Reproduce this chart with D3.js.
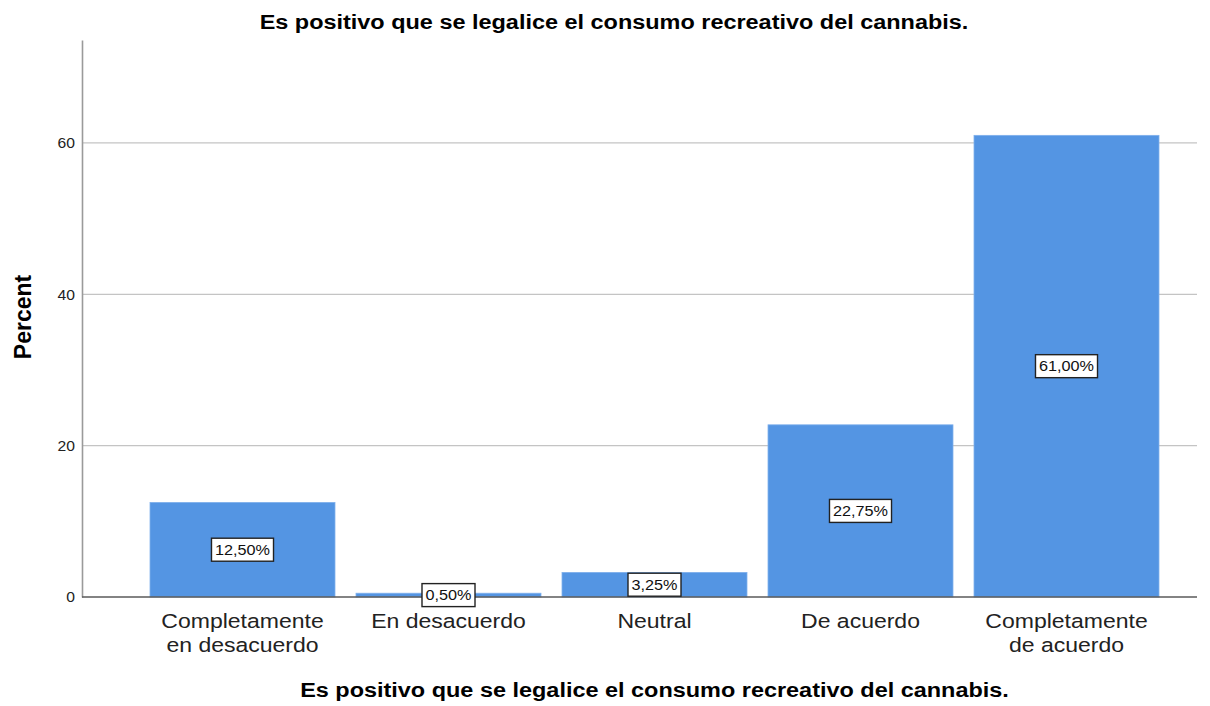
<!DOCTYPE html>
<html><head><meta charset="utf-8">
<script src="https://cdn.jsdelivr.net/npm/d3@7"></script>
<style>body{margin:0;background:#fff}svg{display:block}text{font-family:"Liberation Sans",Arial,sans-serif}</style>
</head><body><svg id="c" width="1210" height="706"></svg>
<script>
const categories = [["Completamente","en desacuerdo"],["En desacuerdo"],["Neutral"],["De acuerdo"],["Completamente","de acuerdo"]];
const values = [12.50, 0.50, 3.25, 22.75, 61.00];
const valueLabels = ["12,50%","0,50%","3,25%","22,75%","61,00%"];
const yTicks = [0, 20, 40, 60];
const titleText = "Es positivo que se legalice el consumo recreativo del cannabis.";
const xTitle = "Es positivo que se legalice el consumo recreativo del cannabis.";
const yTitle = "Percent";

const svg = d3.select("#c");
const plotL = 82, plotR = 1197, plotT = 40, plotB = 597;
const SX = 1.12;

const x = d3.scaleBand().domain(d3.range(values.length)).range([139.5, 1169.5]).paddingInner(0.102).paddingOuter(0.051);
const y = d3.scaleLinear().domain([0, 73.6]).range([plotB, plotT]);

// gridlines
svg.append("g").selectAll("line").data(yTicks.filter(d => d > 0)).join("line")
  .attr("x1", plotL).attr("x2", plotR).attr("y1", d => y(d)).attr("y2", d => y(d))
  .attr("stroke", "#c4c4c4").attr("stroke-width", 1.2);

// y axis
const yAxis = d3.axisLeft(y).tickValues(yTicks).tickSize(0).tickPadding(8).tickFormat(d3.format("d"));
const ga = svg.append("g").attr("transform", `translate(${plotL},0)`).call(yAxis);
ga.select(".domain").attr("stroke", "#9a9a9a").attr("stroke-width", 1.6);
ga.selectAll(".tick text").attr("font-size", 14).attr("fill", "#222").attr("font-family", '"Liberation Sans",Arial,sans-serif')
  .attr("x", -7).attr("dy", "0.35em")
  .style("transform-box","fill-box").style("transform-origin","right center").style("transform", `scaleX(${SX})`);

// bars
svg.append("g").selectAll("rect").data(values).join("rect")
  .attr("x", (d, i) => x(i)).attr("width", x.bandwidth())
  .attr("y", d => y(d)).attr("height", d => y(0) - y(d))
  .attr("fill", "#5495e3").attr("stroke", "#7fb0ec").attr("stroke-width", 0.8);

// baseline
svg.append("line").attr("x1", plotL).attr("x2", plotR).attr("y1", y(0)).attr("y2", y(0))
  .attr("stroke", "#5a5a5a").attr("stroke-width", 1.4);

function stext(g, txt, tx, ty, size, weight, sx) {
  return g.append("text").attr("transform", `translate(${tx},${ty}) scale(${sx || SX},1)`)
    .attr("text-anchor", "middle").attr("font-size", size).attr("font-weight", weight || "normal")
    .attr("fill", "#111").text(txt);
}

// category labels
const gc = svg.append("g");
categories.forEach((lines, i) => {
  const cx = x(i) + x.bandwidth() / 2;
  lines.forEach((ln, j) => stext(gc, ln, cx, 628 + j * 24, 19.5, "normal", 1.18).attr("fill", "#222"));
});

// value labels
const gl = svg.append("g");
values.forEach((v, i) => {
  const cx = x(i) + x.bandwidth() / 2;
  const cy = y(v / 2);
  const g = gl.append("g");
  const rect = g.append("rect");
  const t = stext(g, valueLabels[i], cx, cy + 5, 14.5, "normal", 1.12).attr("fill", "#111");
  const w = t.node().getComputedTextLength() * 1.12 + 7;
  const h = 23;
  rect.attr("x", cx - w / 2).attr("y", cy - h / 2).attr("width", w).attr("height", h)
    .attr("fill", "#fff").attr("stroke", "#222").attr("stroke-width", 1.4);
});

// titles
stext(svg, titleText, 614, 29, 20, "bold", 1.173).attr("fill", "#000");
stext(svg, xTitle, (x.range()[0] + x.range()[1]) / 2, 697, 20, "bold", 1.173).attr("fill", "#000");
svg.append("text").attr("transform", `translate(31,317) rotate(-90)`).attr("text-anchor", "middle")
  .attr("font-size", 23).attr("font-weight", "bold").attr("fill", "#000").text(yTitle);
</script></body></html>
